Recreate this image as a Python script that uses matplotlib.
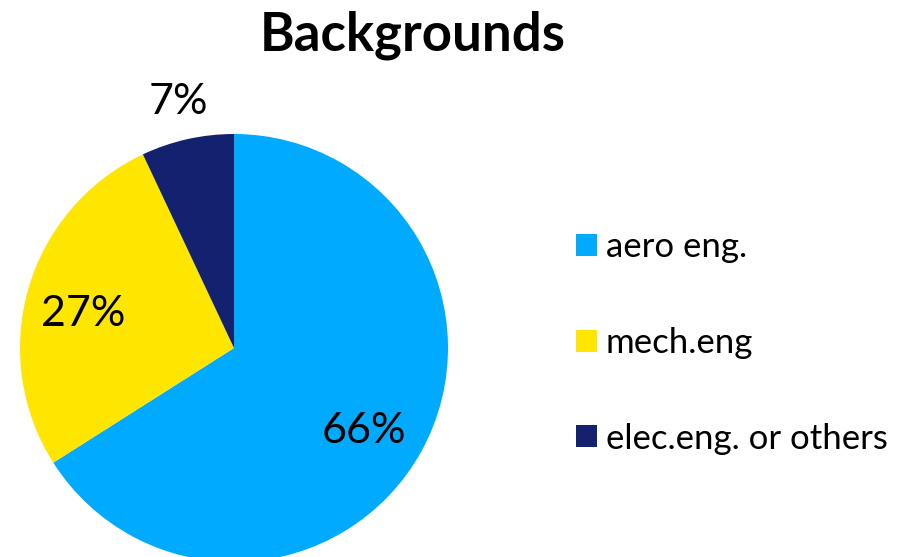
import matplotlib
matplotlib.use("Agg")
import matplotlib.pyplot as plt
from matplotlib.patches import Patch
import numpy as np

categories = ["aero eng.", "mech.eng", "elec.eng. or others"]
values = [66, 27, 7]
colors = ["#00AAFF", "#FFE600", "#13216E"]
title = "Backgrounds"

plt.rcParams['font.family'] = ['Lato', 'DejaVu Sans']

W, H = 904, 557
fig = plt.figure(figsize=(W/100, H/100), dpi=100)
ax = fig.add_axes([0, 0, 1, 1])

cx, cy, r = 234, H - 348, 214
wedges, _ = ax.pie(values, colors=colors, startangle=90, counterclock=False,
                   center=(cx, cy), radius=r, frame=True,
                   wedgeprops=dict(linewidth=0))
ax.set_xlim(0, W)
ax.set_ylim(0, H)
ax.set_aspect('equal')
ax.axis('off')

dists = [0.72, 0.73, 1.18]
xoffs = [-5, -1, -1]
yoffs = [-9, -10, 0]
for w, v, d, xo, yo in zip(wedges, values, dists, xoffs, yoffs):
    ang = np.deg2rad((w.theta1 + w.theta2) / 2)
    x = cx + d * r * np.cos(ang) + xo
    y = cy + d * r * np.sin(ang) + yo
    ax.text(x, y, f"{v}%", ha='center', va='center', fontsize=31, color='black')

ax.text(413, H - 35, title, ha='center', va='center', fontsize=38, fontweight='bold')

handles = [Patch(facecolor=c, edgecolor='none') for c in colors]
leg = fig.legend(handles, categories, loc='upper left',
                 bbox_to_anchor=(562/W, 1 - 217/H), frameon=False,
                 fontsize=25, handlelength=0.6, handleheight=0.6,
                 handletextpad=0.26, labelspacing=1.84, borderaxespad=0)

fig.savefig("out.png", dpi=100)
